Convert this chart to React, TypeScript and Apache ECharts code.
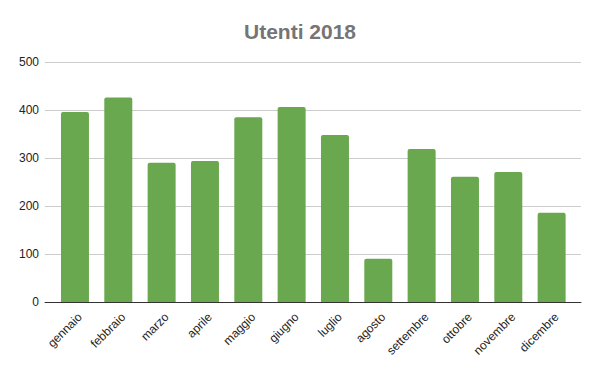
import React, { useEffect, useRef } from "react";
import * as echarts from "echarts";

const months = ["gennaio", "febbraio", "marzo", "aprile", "maggio", "giugno", "luglio", "agosto", "settembre", "ottobre", "novembre", "dicembre"];
const utenti = [396, 426, 290, 294, 385, 406, 348, 90, 319, 261, 271, 186];
const yTicks = [0, 100, 200, 300, 400, 500];
const titleText = "Utenti 2018";

export default function App() {
  const ref = useRef<HTMLDivElement>(null);
  useEffect(() => {
    if (!ref.current) return;
    const chart = echarts.init(ref.current, undefined, { renderer: "svg" });
    const font = "'Liberation Sans', Arial, sans-serif";
    const top = 62;
    const bottom = 69;
    chart.setOption({
      animation: false,
      textStyle: { fontFamily: font },
      title: {
        text: titleText,
        left: "center",
        top: 16,
        textStyle: { fontFamily: font, fontSize: 21, fontWeight: "bold", color: "#757575" },
      },
      grid: [
        { left: 45, right: 19, top, bottom },
        { left: 53.3, right: 26.7, top, bottom },
        { left: 58.3, right: 21.7, top, bottom },
      ],
      xAxis: [
        {
          gridIndex: 0,
          type: "category",
          data: months,
          axisLine: { show: true, lineStyle: { color: "#333333", width: 1 } },
          axisTick: { show: false },
          axisLabel: { show: false },
          splitLine: { show: false },
        },
        {
          gridIndex: 1,
          type: "category",
          data: months,
          axisLine: { show: false },
          axisTick: { show: false },
          axisLabel: { show: false },
        },
        {
          gridIndex: 2,
          type: "category",
          data: months,
          axisLine: { show: false },
          axisTick: { show: false },
          axisLabel: { rotate: 45, fontSize: 12, color: "#222222", margin: 13, fontFamily: font, interval: 0 },
        },
      ],
      yAxis: [
        {
          gridIndex: 0,
          type: "value",
          min: yTicks[0],
          max: yTicks[yTicks.length - 1],
          interval: 100,
          axisLine: { show: false },
          axisTick: { show: false },
          axisLabel: { fontSize: 12, color: "#222222", margin: 6, fontFamily: font },
          splitLine: { show: true, lineStyle: { color: "#cccccc", width: 1 } },
        },
        {
          gridIndex: 1,
          type: "value",
          min: yTicks[0],
          max: yTicks[yTicks.length - 1],
          interval: 100,
          show: false,
          splitLine: { show: false },
        },
        {
          gridIndex: 2,
          type: "value",
          min: yTicks[0],
          max: yTicks[yTicks.length - 1],
          interval: 100,
          show: false,
          splitLine: { show: false },
        },
      ],
      series: [
        {
          type: "bar",
          xAxisIndex: 1,
          yAxisIndex: 1,
          data: utenti,
          barWidth: 28,
          itemStyle: { color: "#6aa84f", borderRadius: [2, 2, 0, 0] },
          z: 1,
        },
      ],
    });
    return () => chart.dispose();
  }, []);
  return <div ref={ref} style={{ width: 600, height: 371, position: "absolute", left: 0, top: 0 }} />;
}
